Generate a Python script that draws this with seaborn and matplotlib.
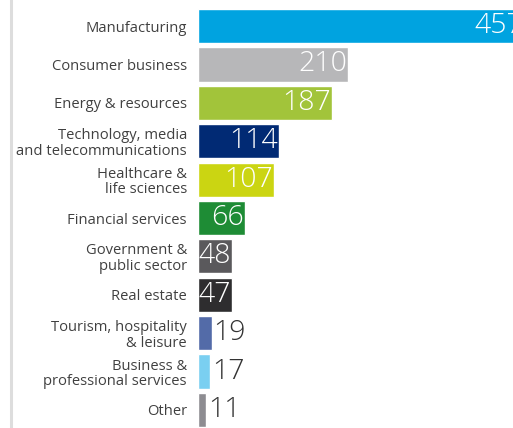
import numpy as np
import pandas as pd
import seaborn as sns
import matplotlib.pyplot as plt

## data
sectors = ['Manufacturing', 'Consumer business', 'Energy & resources',
           'Technology, media\nand telecommunications', 'Healthcare &\nlife sciences',
           'Financial services', 'Government &\npublic sector', 'Real estate',
           'Tourism, hospitality\n& leisure', 'Business &\nprofessional services', 'Other']
counts = [457, 210, 187, 114, 107, 66, 48, 47, 19, 17, 11]
colors = ['#00A3E0', '#B7B7B9', '#A2C43A', '#012A74', '#CBD512', '#1E8C35',
          '#5A595C', '#2E2D2F', '#536BA8', '#7ACFF1', '#8D8C91']

df = pd.DataFrame({'Sector': sectors, 'Count': counts})

## plot
sns.set_style('white')
plt.rcParams['font.family'] = ['Open Sans', 'DejaVu Sans']

fig = plt.figure(figsize=(5.13, 4.28), dpi=100)
ax = fig.add_axes([198 / 513, 0, 315 / 513, 1])

sns.barplot(data=df, x='Count', y='Sector', hue='Sector', palette=colors,
            saturation=1, width=0.89, legend=False, ax=ax)

ax.set_xlim(0, 441)
ax.set_ylim(10.47, -0.68)

for i, v in enumerate(counts):
    if v >= 40:
        ax.text(v - 1.5, i, str(v), ha='right', va='center', color='white',
                fontsize=20.5, fontweight='light')
    else:
        ax.text(v + 3, i, str(v), ha='left', va='center', color='#333333',
                fontsize=20.5, fontweight='light')

ax.set_xlabel('')
ax.set_ylabel('')
ax.set_xticks([])
ax.tick_params(axis='y', length=0, pad=8)
for lab in ax.get_yticklabels():
    lab.set_fontsize(10.6)
    lab.set_color('#404040')
    lab.set_linespacing(1.05)
sns.despine(ax=ax, left=True, bottom=True)

fig.add_artist(plt.Line2D([11 / 513, 11 / 513], [0, 1], transform=fig.transFigure,
                          color='#DDDDDD', linewidth=2.2))

fig.savefig('out.png', dpi=100)
